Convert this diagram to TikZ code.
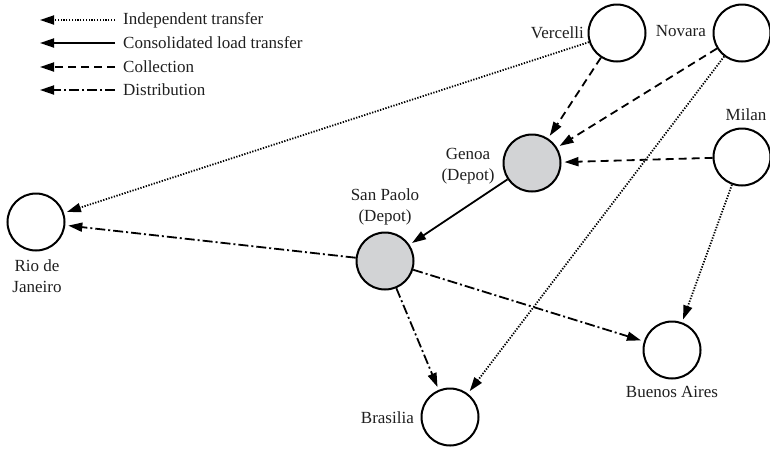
\documentclass[tikz,border=0pt]{standalone}
\usepackage{fontspec}
\setmainfont{Liberation Serif}
\newfontfamily\tnr{Liberation Serif}
\usetikzlibrary{arrows.meta}
\begin{document}
\begin{tikzpicture}[x=1pt,y=-1pt,
  font=\tnr\fontsize{17}{21.5}\selectfont,
  city/.style={circle,draw,line width=2pt,minimum size=57pt,inner sep=0pt},
  depot/.style={city,fill={rgb,255:red,210;green,211;blue,213}},
  lbl/.style={inner sep=0pt,align=center,text=black!88},
  conn/.style={line width=1.8pt,-{Triangle[length=14pt,width=9pt]},shorten >=3pt},
  indep/.style={conn,dash pattern=on 1.3pt off 1.5pt},
  consol/.style={conn},
  collect/.style={conn,dash pattern=on 8pt off 5pt},
  distrib/.style={conn,dash pattern=on 10pt off 3pt on 2pt off 3pt},
]
\useasboundingbox (0,0) rectangle (770,448);

% legend
\foreach \i/\y/\t in {1/20/Independent transfer,2/43/Consolidated load transfer,3/67/Collection,4/90/Distribution}{
  \coordinate (ls\i) at (115,\y);
  \coordinate (le\i) at (40,\y);
  \node[lbl,anchor=west] (lt\i) at (123,\y) {\t};
}
\draw[indep,shorten >=0pt] (ls1) -- (le1);
\draw[consol,shorten >=0pt] (ls2) -- (le2);
\draw[collect,shorten >=0pt] (ls3) -- (le3);
\draw[distrib,shorten >=0pt] (ls4) -- (le4);

% cities
\node[city] (ver) at (617,33) {};
\node[city] (nov) at (742,33) {};
\node[city] (mil) at (742,157) {};
\node[depot] (gen) at (532,163) {};
\node[depot] (sp) at (385,261) {};
\node[city] (rio) at (36,222) {};
\node[city] (ba) at (672,350) {};
\node[city] (bra) at (450,417) {};

% labels
\node[lbl,anchor=east] (lver) at (584,33) {Vercelli};
\node[lbl,anchor=east] (lnov) at (706,31) {Novara};
\node[lbl] (lmil) at (746,115) {Milan};
\node[lbl] (lgen) at (468,166) {Genoa\\(Depot)};
\node[lbl] (lsp) at (385,207) {San Paolo\\(Depot)};
\node[lbl] (lrio) at (37,276) {Rio de\\Janeiro};
\node[lbl] (lba) at (672,392) {Buenos Aires};
\node[lbl,anchor=east] (lbra) at (414,418) {Brasilia};

% connectors
\draw[indep] (ver) -- (rio);
\draw[collect] (ver) -- (gen);
\draw[collect] (nov) -- (gen);
\draw[indep] (nov) -- (bra);
\draw[collect] (mil) -- (gen);
\draw[indep] (mil) -- (ba);
\draw[consol] (gen) -- (sp);
\draw[distrib] (sp) -- (rio);
\draw[distrib] (sp) -- (bra);
\draw[distrib] (sp) -- (ba);
\end{tikzpicture}
\end{document}
